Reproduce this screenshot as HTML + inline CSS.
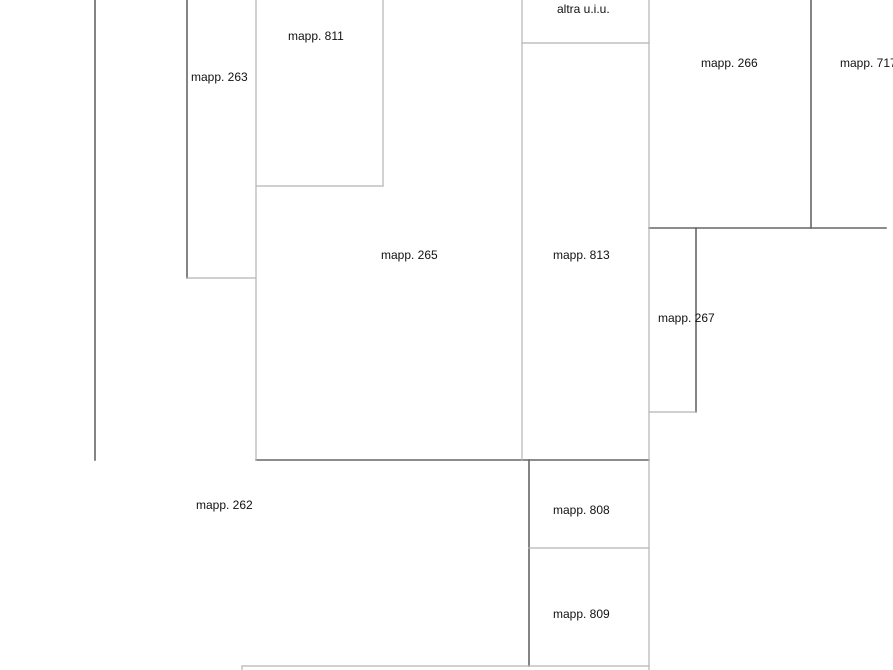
<!DOCTYPE html>
<html><head><meta charset="utf-8"><style>
html,body{margin:0;padding:0;background:#fff;width:893px;height:670px;overflow:hidden}
svg{display:block}
text{font-family:"Liberation Sans",Arial,sans-serif;font-size:12px;fill:#111}
</style></head><body>
<svg width="893" height="670" viewBox="0 0 893 670" xmlns="http://www.w3.org/2000/svg">
<g fill="none" stroke-linecap="square">
<!-- dark lines -->
<g stroke="#666" stroke-width="1.6">
<line x1="95" y1="0" x2="95" y2="460"/>
<line x1="187" y1="0" x2="187" y2="278"/>
<line x1="256" y1="460" x2="649" y2="460"/>
<line x1="529" y1="460" x2="529" y2="666"/>
<line x1="811" y1="0" x2="811" y2="228"/>
<line x1="649" y1="228" x2="886" y2="228"/>
<line x1="696" y1="228" x2="696" y2="412"/>
</g>
<!-- light lines -->
<g stroke="#b5b5b5" stroke-width="1.2">
<line x1="187" y1="278" x2="256" y2="278"/>
<line x1="256" y1="0" x2="256" y2="460"/>
<line x1="383" y1="0" x2="383" y2="186"/>
<line x1="256" y1="186" x2="383" y2="186"/>
<line x1="522" y1="0" x2="522" y2="460"/>
<line x1="522" y1="43" x2="649" y2="43"/>
<line x1="649" y1="0" x2="649" y2="670"/>
<line x1="529" y1="548" x2="649" y2="548"/>
<line x1="242" y1="666" x2="649" y2="666"/>
<line x1="242" y1="666" x2="242" y2="670"/>
<line x1="649" y1="412" x2="696" y2="412"/>
</g>
</g>
<text x="191" y="81">mapp. 263</text>
<text x="288" y="40">mapp. 811</text>
<text x="557" y="13">altra u.i.u.</text>
<text x="381" y="259">mapp. 265</text>
<text x="553" y="259">mapp. 813</text>
<text x="701" y="67">mapp. 266</text>
<text x="840" y="67">mapp. 717</text>
<text x="658" y="322">mapp. 267</text>
<text x="196" y="509">mapp. 262</text>
<text x="553" y="514">mapp. 808</text>
<text x="553" y="618">mapp. 809</text>
</svg>
</body></html>
